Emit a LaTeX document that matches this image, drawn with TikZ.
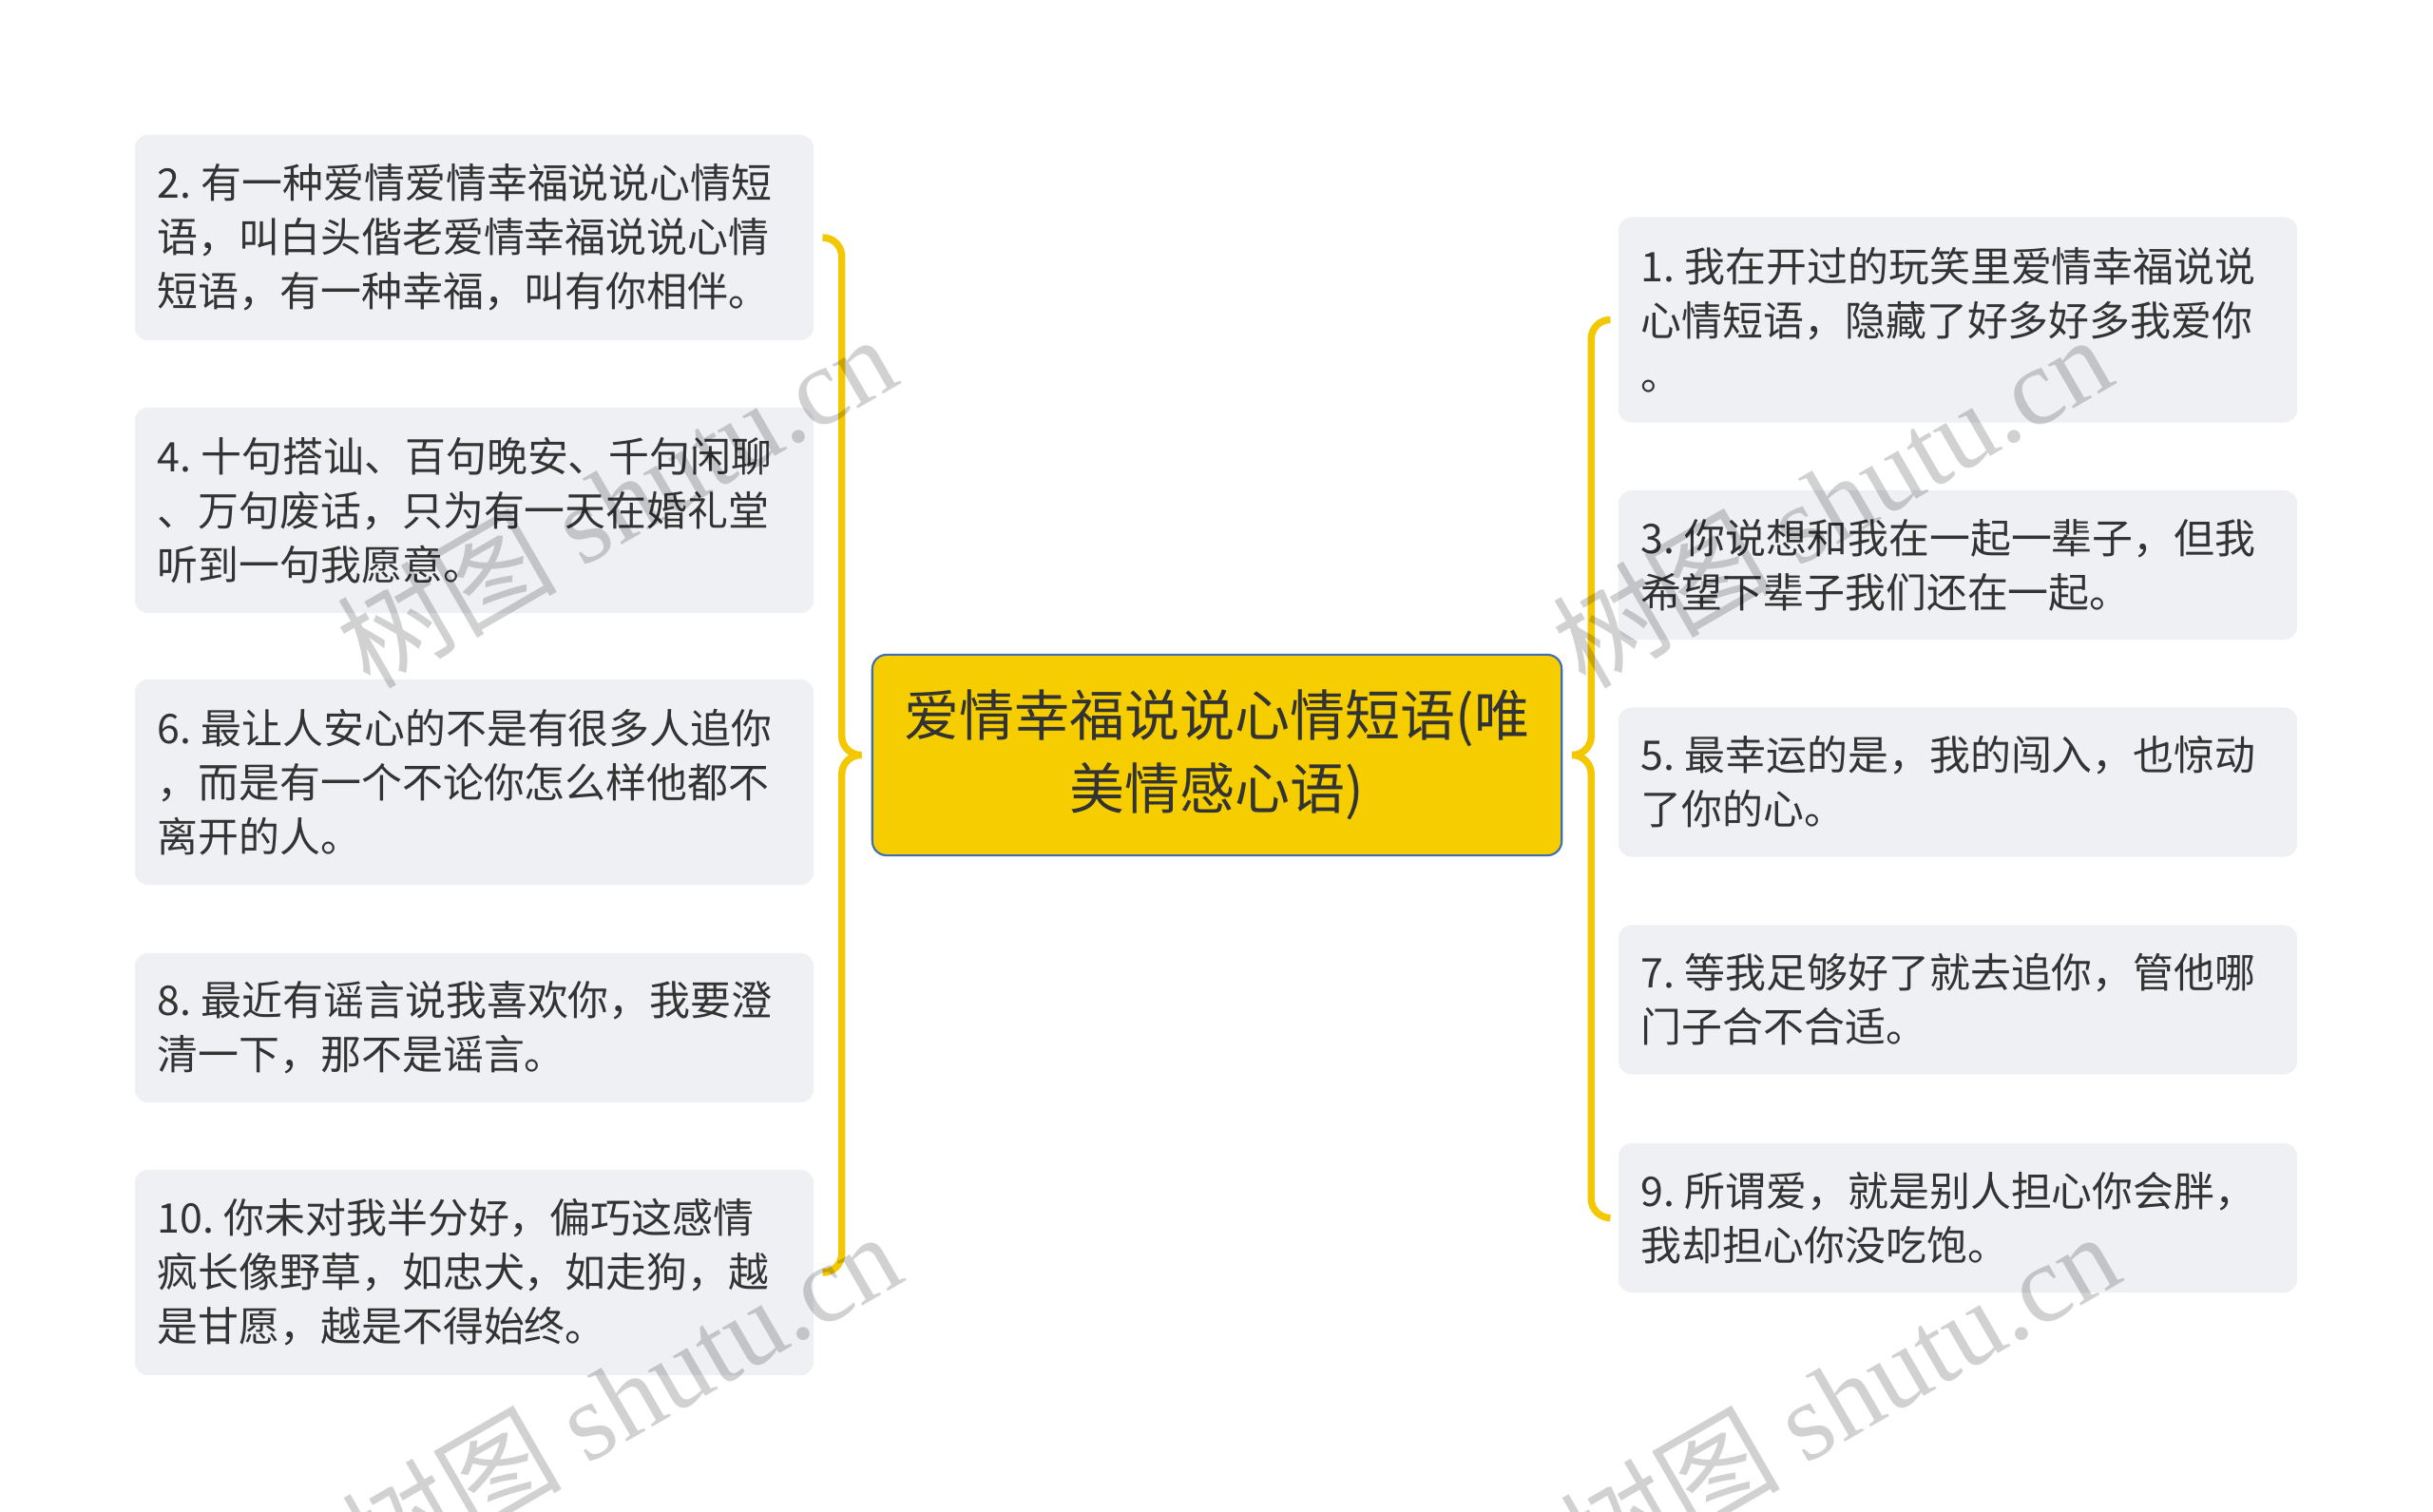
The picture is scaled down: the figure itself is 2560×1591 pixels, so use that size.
\documentclass[tikz,border=0pt]{standalone}
\usepackage{fontspec}
\setmainfont{Noto Sans CJK SC}
\newfontfamily\wmfont{Liberation Serif}
\usetikzlibrary{calc}
\definecolor{leafgray}{HTML}{EEF0F3}
\definecolor{txtgray}{HTML}{333333}
\definecolor{rootyellow}{HTML}{F6CE00}
\definecolor{rootblue}{HTML}{3E6DB5}
\definecolor{bracecol}{HTML}{F3C800}
\newcommand{\nsp}{\hspace{0.24em}}
\begin{document}
\begin{tikzpicture}[x=0.01cm,y=-0.01cm,
    leaf/.style={fill=leafgray, rounded corners=0.14cm, text=txtgray, text width=6.66cm, align=left,
      inner xsep=0.24cm, inner ysep=0pt, font=\fontsize{12.2pt}{16.2pt}\selectfont},
    tall/.style={leaf, minimum height=2.16cm},
    short/.style={leaf, minimum height=1.57cm},
    root/.style={fill=rootyellow, draw=rootblue, line width=0.6pt, rounded corners=0.15cm, text=txtgray,
      align=center, minimum width=7.25cm, minimum height=2.11cm, font=\fontsize{16.5pt}{21.9pt}\selectfont},
    branch/.style={draw=bracecol, line width=2.1pt, rounded corners=0.2cm, shorten >=0.09cm},
    wmtext/.style={text=black, text opacity=0.18, rotate=30, font=\fontsize{33pt}{33pt}\selectfont}]
\fill[white] (0,0) rectangle (2560,1591);
\useasboundingbox (0,0) rectangle (2560,1591);
\node[root] (root) at (1280.5,794.5) {爱情幸福说说心情短语(唯\\美情感心语)};
\node[tall] (l2) at (499,250) {2.\nsp 有一种爱情爱情幸福说说心情短\\语，叫白头偕老爱情幸福说说心情\\短语，有一种幸福，叫有你相伴。};
\node[tall] (l4) at (499,537) {4.\nsp 十句搭讪、百句晚安、千句闲聊\\、万句废话，只为有一天在婚礼堂\\听到一句我愿意。};
\node[tall] (l6) at (499,823) {6.\nsp 最让人安心的不是有很多人追你\\，而是有一个不论你怎么样他都不\\离开的人。};
\node[short] (l8) at (499,1081.5) {8.\nsp 最近有谣言说我喜欢你，我要澄\\清一下，那不是谣言。};
\node[tall] (l10) at (499,1339) {10.\nsp 你未对我半分好，偏巧这感情\\疯长像野草，如忠犬，如走狗，越\\是甘愿，越是不得始终。};
\node[tall] (r1) at (2060,336.5) {1.\nsp 我在开过的玩笑里爱情幸福说说\\心情短语，隐藏了好多好多我爱你\\。};
\node[short] (r3) at (2060,594.5) {3.\nsp 你说想和我在一起一辈子，但我\\希望下辈子我们还在一起。};
\node[short] (r5) at (2060,823) {5.\nsp 最幸运的是，我的闯入，也惊动\\了你的心。};
\node[short] (r7) at (2060,1052) {7.\nsp 等我足够好了就去追你，管他哪\\门子合不合适。};
\node[short] (r9) at (2060,1281.5) {9.\nsp 所谓爱，就是别人担心你会胖，\\我却担心你没吃饱。};
\coordinate (ltip) at ($(root.west)+(-10,0)$);
\coordinate (lbar) at ($(root.west)+(-31,0)$);
\coordinate (rtip) at ($(root.east)+(11,0)$);
\coordinate (rbar) at ($(root.east)+(30,0)$);
\draw[branch] (ltip) -- (lbar) -- (lbar |- l2.east) -- (l2.east);
\draw[branch] (ltip) -- (lbar) -- (lbar |- l10.east) -- (l10.east);
\draw[branch] (rtip) -- (rbar) -- (rbar |- r1.west) -- (r1.west);
\draw[branch] (rtip) -- (rbar) -- (rbar |- r9.west) -- (r9.west);
\foreach \wx/\wy in {648/526, 653/1470, 1927/526, 1935/1470}
    \node[wmtext] (wm) at (\wx,\wy) {树图 {\wmfont shutu.cn}};
\end{tikzpicture}
\end{document}
